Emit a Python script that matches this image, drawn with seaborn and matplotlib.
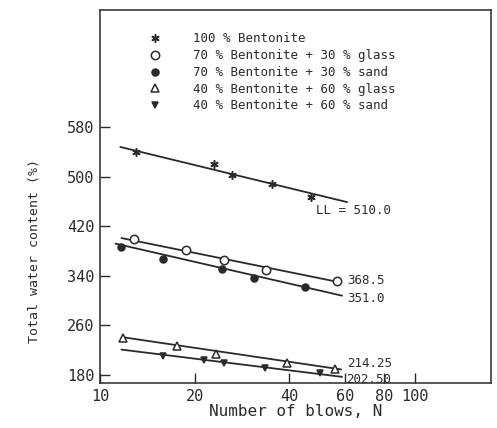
import matplotlib
matplotlib.use("Agg")
import matplotlib.pyplot as plt
from matplotlib.lines import Line2D
import seaborn as sns

# ==========================================
# DATA
# ==========================================
labels = [
    "100 % Bentonite",
    "70 % Bentonite + 30 % glass",
    "70 % Bentonite + 30 % sand",
    "40 % Bentonite + 60 % glass",
    "40 % Bentonite + 60 % sand",
]

# measured points: blows N, water content (%)
b100_n = [13.0, 23.0, 26.3, 35.2, 46.9]
b100_w = [540, 521, 502, 489, 468]
b70g_n = [12.8, 18.7, 24.8, 33.8, 56.6]
b70g_w = [399, 381, 365, 349, 332]
b70s_n = [11.7, 15.8, 24.5, 30.9, 44.8]
b70s_w = [387, 368, 351, 337, 322]
b40g_n = [11.8, 17.6, 23.4, 39.2, 55.7]
b40g_w = [240, 227, 214, 200, 190]
b40s_n = [15.8, 21.4, 24.8, 33.4, 50.1]
b40s_w = [211, 204, 199, 192, 184]

# flow lines (end points)
b100_line_n, b100_line_w = [11.6, 61.0], [548, 459]
b70g_line_n, b70g_line_w = [11.7, 56.0], [401, 331]
b70s_line_n, b70s_line_w = [11.2, 58.8], [392, 308]
b40g_line_n, b40g_line_w = [11.8, 58.4], [241, 189]
b40s_line_n, b40s_line_w = [11.7, 58.8], [221, 177]

# liquid limit labels
ll_text = ["LL = 510.0", "368.5", "351.0", "214.25", "202.50"]
ll_n = [48.5, 61.0, 61.0, 61.0, 60.5]
ll_w = [446, 332, 304, 198, 172]

y_ticks = [180, 260, 340, 420, 500, 580]
x_ticks = [10, 20, 40, 60, 80, 100]

# ==========================================
# PLOT
# ==========================================
sns.set_style("ticks")
plt.rcParams["font.family"] = ["DejaVu Sans Mono"]
ink = "#2a2a2a"

fig = plt.figure(figsize=(4.97, 4.28), dpi=100)
ax = fig.add_axes([0.2012, 0.105, 0.787, 0.8716])

series = [
    (b100_n, b100_w, b100_line_n, b100_line_w, (6, 2, 0), ink, 6),
    (b70g_n, b70g_w, b70g_line_n, b70g_line_w, "o", "white", 6),
    (b70s_n, b70s_w, b70s_line_n, b70s_line_w, "o", ink, 5),
    (b40g_n, b40g_w, b40g_line_n, b40g_line_w, "^", "white", 6),
    (b40s_n, b40s_w, b40s_line_n, b40s_line_w, "v", ink, 5),
]

handles = []
for n, w, ln, lw, mk, face, ms in series:
    sns.lineplot(x=ln, y=lw, ax=ax, color=ink, lw=1.3, legend=False)
    sns.lineplot(x=n, y=w, ax=ax, marker=mk, markersize=ms, markerfacecolor=face,
                 markeredgecolor=ink, markeredgewidth=1.1, linestyle="none",
                 color=ink, legend=False, zorder=3)
    handles.append(Line2D([], [], marker=mk, markersize=ms, markerfacecolor=face,
                          markeredgecolor=ink, markeredgewidth=1.1, linestyle="none"))

for t, n, w in zip(ll_text, ll_n, ll_w):
    ax.text(n, w, t, fontsize=9, color=ink, va="center", ha="left")

ax.set_xscale("log")
ax.set_xlim(10, 175)
ax.set_ylim(167, 769)
ax.set_xticks(x_ticks)
ax.set_xticklabels([str(v) for v in x_ticks])
ax.xaxis.set_minor_locator(matplotlib.ticker.NullLocator())
ax.set_yticks(y_ticks)
ax.tick_params(direction="in", length=7, width=1, labelsize=11, colors=ink, pad=4)
for s in ax.spines.values():
    s.set_color(ink)
    s.set_linewidth(1.1)

ax.set_xlabel("Number of blows, N", fontsize=11.5, color=ink, labelpad=0)
ax.set_ylabel("Total water content (%)", fontsize=9.5, color=ink)
ax.yaxis.set_label_coords(-0.15, 0.355)

ax.legend(handles, labels, loc="upper left", bbox_to_anchor=(0.08, 0.97),
          frameon=False, fontsize=9, handletextpad=2.0, labelspacing=0.3,
          labelcolor=ink)

plt.savefig("out.png", dpi=100)
plt.close()
